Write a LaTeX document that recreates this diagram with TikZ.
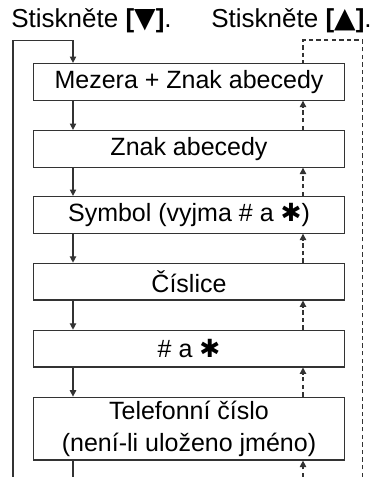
\documentclass[tikz,border=0pt]{standalone}
\usepackage{fontspec}
\setmainfont{Liberation Sans}
\newfontfamily\symfont{DejaVu Sans}
\usepackage{tikz}
\usetikzlibrary{arrows, arrows.meta}

\definecolor{linegray}{HTML}{333333}
\newcommand{\hvezda}{{\symfont\bfseries ✱}}
\newcommand{\tlacitko}[1]{\textbf{[}{\symfont\fontsize{14}{14}\selectfont #1}\textbf{]}}

\tikzset{
  box/.style={draw=linegray, line width=0.6pt, minimum width=155.6pt, minimum height=18.3pt,
    inner sep=0pt, align=center, font=\fontsize{12.5}{14}\selectfont},
  down/.style={linegray, line width=0.6pt, -{Triangle[width=3.2pt,length=3.2pt]}},
  upback/.style={linegray, line width=0.6pt, dash pattern=on 2.2pt off 1.6pt},
  head/.style={inner sep=0pt, anchor=base west, font=\fontsize{13}{15}\selectfont}
}

\begin{document}
\begin{tikzpicture}[x=0.5pt,y=-0.5pt]
\useasboundingbox (0,0) rectangle (374,477);
% texts on top
\node[head] (stdolu) at (11,27) {Stiskněte \tlacitko{▼}.};
\node[head] (stnahoru) at (211,27) {Stiskněte \tlacitko{▲}.};
% the boxes
\node[box] (mezera) at (189,81.8) {Mezera + Znak abecedy};
\node[box] (znak) at (189,148.8) {Znak abecedy};
\node[box] (symbol) at (189,214.8) {Symbol (vyjma \# a \hvezda)};
\node[box] (cislice) at (189,281.6) {Číslice};
\node[box] (mriz) at (189,348.6) {\# a \hvezda};
\node[box, minimum height=31.4pt, align=center] (telefon) at (189,428.6)
  {Telefonní číslo\\[2pt](není-li uloženo jméno)};
\coordinate (dl) at (73,0);
\coordinate (dr) at (303,0);
\coordinate (lbot) at (13,477);
\coordinate (ltop) at (13,40.5);
\coordinate (rbot) at (362.5,477);
\coordinate (rtop) at (362.5,40);
\coordinate (dlbot) at (73,477);
\coordinate (drbot) at (303,477);
% down, solid
\draw[down] (lbot) -- (ltop) -- (ltop -| dl) -- (mezera.north -| dl);
\draw[down] (mezera.south -| dl) -- (znak.north -| dl);
\draw[down] (znak.south -| dl) -- (symbol.north -| dl);
\draw[down] (symbol.south -| dl) -- (cislice.north -| dl);
\draw[down] (cislice.south -| dl) -- (mriz.north -| dl);
\draw[down] (mriz.south -| dl) -- (telefon.north -| dl);
\draw[linegray, line width=0.6pt] (telefon.south -| dl) -- (dlbot);
% up, dashed
\draw[upback] (rbot) -- (rtop) -- (rtop -| dr) -- (mezera.north -| dr);
\draw[upback, -{Triangle[width=3.2pt,length=3.2pt]}] (znak.north -| dr) -- (mezera.south -| dr);
\draw[upback, -{Triangle[width=3.2pt,length=3.2pt]}] (symbol.north -| dr) -- (znak.south -| dr);
\draw[upback, -{Triangle[width=3.2pt,length=3.2pt]}] (cislice.north -| dr) -- (symbol.south -| dr);
\draw[upback, -{Triangle[width=3.2pt,length=3.2pt]}] (mriz.north -| dr) -- (cislice.south -| dr);
\draw[upback, -{Triangle[width=3.2pt,length=3.2pt]}] (telefon.north -| dr) -- (mriz.south -| dr);
\draw[upback, -{Triangle[width=3.2pt,length=3.2pt]}] (drbot) -- (telefon.south -| dr);
\end{tikzpicture}
\end{document}
